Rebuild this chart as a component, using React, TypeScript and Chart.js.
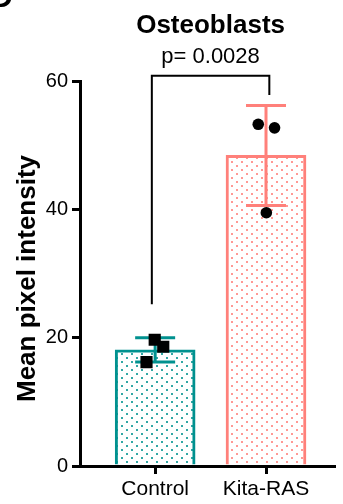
import React, { useEffect, useRef } from "react";
import { Chart, registerables } from "chart.js";

Chart.register(...registerables);

// ---- data ----
const categories = ["Control", "Kita-RAS"];
const means = [18.1, 48.4];
const sds = [1.9, 7.8];
const controlPoints = [19.67, 18.58, 16.2];
const controlJitter = [-0.004, 0.073, -0.078];
const kitaPoints = [53.25, 52.7, 39.47];
const kitaJitter = [-0.07, 0.077, 0.003];
const yTicks = [0, 20, 40, 60];
const chartTitle = "Osteoblasts";
const pLabel = "p= 0.0028";
const yTitle = "Mean pixel intensity";
const panelLetter = "D";
// bracket levels (data units)
const bracketTop = 60.8;
const bracketLeftEnd = 25.2;
const bracketRightEnd = 57.8;

const TEAL = "#00918f";
const SALMON = "#ff807a";
const FONT = "'Liberation Sans', Arial, Helvetica, sans-serif";

function makePattern(color: string): CanvasPattern | string {
  const c = document.createElement("canvas");
  c.width = 10;
  c.height = 8;
  const g = c.getContext("2d");
  if (!g) return color;
  g.fillStyle = "#ffffff";
  g.fillRect(0, 0, 10, 8);
  g.fillStyle = color;
  g.globalAlpha = 0.8;
  g.fillRect(1, 1, 2, 2);
  g.fillRect(6, 5, 2, 2);
  const p = g.createPattern(c, "repeat");
  return p || color;
}

const errorBarPlugin = {
  id: "errorBars",
  afterDatasetDraw(chart: any, args: any) {
    if (args.index !== 0) return;
    const { ctx, scales } = chart;
    const x = scales.x;
    const y = scales.y;
    const colors = [TEAL, SALMON];
    ctx.save();
    ctx.lineWidth = 3;
    means.forEach((m, i) => {
      const px = x.getPixelForValue(i + 1);
      const top = y.getPixelForValue(m + sds[i]);
      const bot = y.getPixelForValue(m - sds[i]);
      ctx.strokeStyle = colors[i];
      ctx.beginPath();
      ctx.moveTo(px, top);
      ctx.lineTo(px, bot);
      ctx.moveTo(px - 20, top);
      ctx.lineTo(px + 20, top);
      ctx.moveTo(px - 20, bot);
      ctx.lineTo(px + 20, bot);
      ctx.stroke();
    });
    ctx.restore();
  },
};

const annotationPlugin = {
  id: "annotations",
  afterDraw(chart: any) {
    const { ctx, scales, chartArea } = chart;
    const x = scales.x;
    const y = scales.y;
    const cx = (x.getPixelForValue(1) + x.getPixelForValue(2)) / 2;
    ctx.save();
    // bracket
    const xl = x.getPixelForValue(0.97);
    const xr = x.getPixelForValue(2.03);
    ctx.strokeStyle = "#000";
    ctx.lineWidth = 2;
    ctx.beginPath();
    ctx.moveTo(xl, y.getPixelForValue(bracketLeftEnd));
    ctx.lineTo(xl, y.getPixelForValue(bracketTop));
    ctx.lineTo(xr, y.getPixelForValue(bracketTop));
    ctx.lineTo(xr, y.getPixelForValue(bracketRightEnd));
    ctx.stroke();
    // texts
    ctx.fillStyle = "#000";
    ctx.textAlign = "center";
    ctx.textBaseline = "alphabetic";
    ctx.font = `bold 26px ${FONT}`;
    ctx.fillText(chartTitle, cx, 33);
    ctx.font = `22px ${FONT}`;
    ctx.fillText(pLabel, cx, 63);
    // y axis title
    ctx.save();
    ctx.translate(28, (chartArea.top + chartArea.bottom) / 2 + 5);
    ctx.rotate(-Math.PI / 2);
    ctx.textBaseline = "middle";
    ctx.font = `bold 26px ${FONT}`;
    ctx.fillText(yTitle, 0, 0);
    ctx.restore();
    // panel letter (cut off at top-left)
    ctx.textAlign = "left";
    ctx.font = `bold 30px ${FONT}`;
    ctx.fillText(panelLetter, -9, 7);
    ctx.restore();
  },
};

export default function App() {
  const ref = useRef<HTMLCanvasElement | null>(null);

  useEffect(() => {
    if (!ref.current) return;
    const tealPattern = makePattern(TEAL);
    const salmonPattern = makePattern(SALMON);
    const chart = new Chart(ref.current, {
      type: "bar",
      data: {
        datasets: [
          {
            type: "bar",
            order: 3,
            data: categories.map((c, i) => ({ x: i + 1, y: means[i] })),
            backgroundColor: [tealPattern, salmonPattern] as any,
            borderColor: [TEAL, SALMON],
            borderWidth: 3,
            borderSkipped: "start",
            barThickness: 80,
          } as any,
          {
            type: "scatter",
            order: 1,
            data: controlPoints.map((v, j) => ({ x: 1 + controlJitter[j], y: v })),
            pointStyle: "rect",
            pointRadius: 8.6,
            backgroundColor: "#000",
            borderWidth: 0,
          } as any,
          {
            type: "scatter",
            order: 1,
            data: kitaPoints.map((v, j) => ({ x: 2 + kitaJitter[j], y: v })),
            pointStyle: "circle",
            pointRadius: 5.8,
            backgroundColor: "#000",
            borderWidth: 0,
          } as any,
        ],
      },
      options: {
        responsive: false,
        animation: false,
        events: [],
        layout: { padding: { top: 81, left: 0, right: 0, bottom: 0 } },
        plugins: {
          legend: { display: false },
          tooltip: { enabled: false },
          title: { display: false },
        },
        scales: {
          x: {
            type: "linear",
            min: 0.322,
            max: 2.617,
            offset: false,
            afterBuildTicks: (scale: any) => {
              scale.ticks = categories.map((c, i) => ({ value: i + 1 }));
            },
            afterFit: (scale: any) => {
              scale.height = 38;
            },
            ticks: {
              autoSkip: false,
              maxRotation: 0,
              padding: 3,
              color: "#000",
              font: { family: FONT, size: 21 },
              callback: (v: any) => categories[Math.round(Number(v)) - 1] ?? "",
            },
            grid: {
              offset: false,
              drawOnChartArea: false,
              drawTicks: true,
              tickLength: 8,
              lineWidth: 3,
              tickWidth: 3,
              color: "#000",
              tickColor: "#000",
            },
            border: { display: true, color: "#000", width: 3 },
          },
          y: {
            type: "linear",
            min: 0,
            max: 60,
            afterBuildTicks: (scale: any) => {
              scale.ticks = yTicks.map((v) => ({ value: v }));
            },
            afterFit: (scale: any) => {
              scale.width = 80;
            },
            ticks: {
              padding: 4,
              color: "#000",
              font: { family: FONT, size: 20 },
            },
            grid: {
              drawOnChartArea: false,
              drawTicks: true,
              tickLength: 8,
              lineWidth: 3,
              tickWidth: 3,
              color: "#000",
              tickColor: "#000",
            },
            border: { display: true, color: "#000", width: 3 },
          },
        },
      } as any,
      plugins: [errorBarPlugin, annotationPlugin],
    });
    return () => chart.destroy();
  }, []);

  return (
    <div style={{ position: "fixed", left: 0, top: 0, width: 343, height: 504, background: "#fff" }}>
      <canvas ref={ref} width={343} height={504} style={{ display: "block", width: 343, height: 504 }} />
    </div>
  );
}
